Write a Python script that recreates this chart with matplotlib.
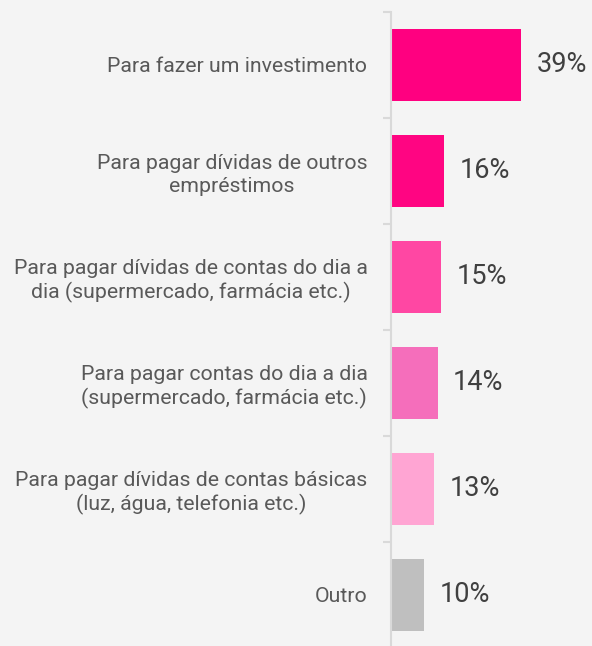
import matplotlib.pyplot as plt
import numpy as np

categories = [
    "Para fazer um investimento",
    "Para pagar dívidas de outros\nempréstimos",
    "Para pagar dívidas de contas do dia a\ndia (supermercado, farmácia etc.)",
    "Para pagar contas do dia a dia\n(supermercado, farmácia etc.)",
    "Para pagar dívidas de contas básicas\n(luz, água, telefonia etc.)",
    "Outro",
]
values = [39, 16, 15, 14, 13, 10]
colors = ["#FF0080", "#FF0582", "#FF47A3", "#F56EBB", "#FFA5D3", "#BFBFBF"]

plt.rcParams['font.family'] = ['Roboto', 'DejaVu Sans']

fig = plt.figure(figsize=(5.92, 6.46), dpi=100)
fig.patch.set_facecolor("#F4F4F4")
ax = fig.add_axes([391 / 592, -2 / 646, 1 - 391 / 592, 636 / 646])
ax.set_facecolor("none")

y = np.arange(len(categories))
ax.barh(y, values, height=0.68, color=colors)
ax.set_ylim(len(categories) - 0.5, -0.5)
ax.set_xlim(0, 60.3)

for yi, v in zip(y, values):
    ax.annotate(f"{v}%", (v, yi), xytext=(11, 0), textcoords="offset points",
                va="center", ha="left", fontsize=19.5, color="#404040")

ax.set_yticks(y)
ax.set_yticklabels(categories, fontsize=15.3, color="#595959",
                   multialignment="center", linespacing=1.25)
ax.tick_params(axis="y", which="major", length=0, pad=17)
ax.set_yticks(np.arange(len(categories) + 1) - 0.5, minor=True)
ax.tick_params(axis="y", which="minor", length=6, width=1.5, color="#D9D9D9")
ax.set_xticks([])

for s in ["top", "right", "bottom"]:
    ax.spines[s].set_visible(False)
ax.spines["left"].set_color("#D9D9D9")
ax.spines["left"].set_linewidth(1.5)

fig.savefig("out.png", dpi=100, facecolor=fig.get_facecolor())
